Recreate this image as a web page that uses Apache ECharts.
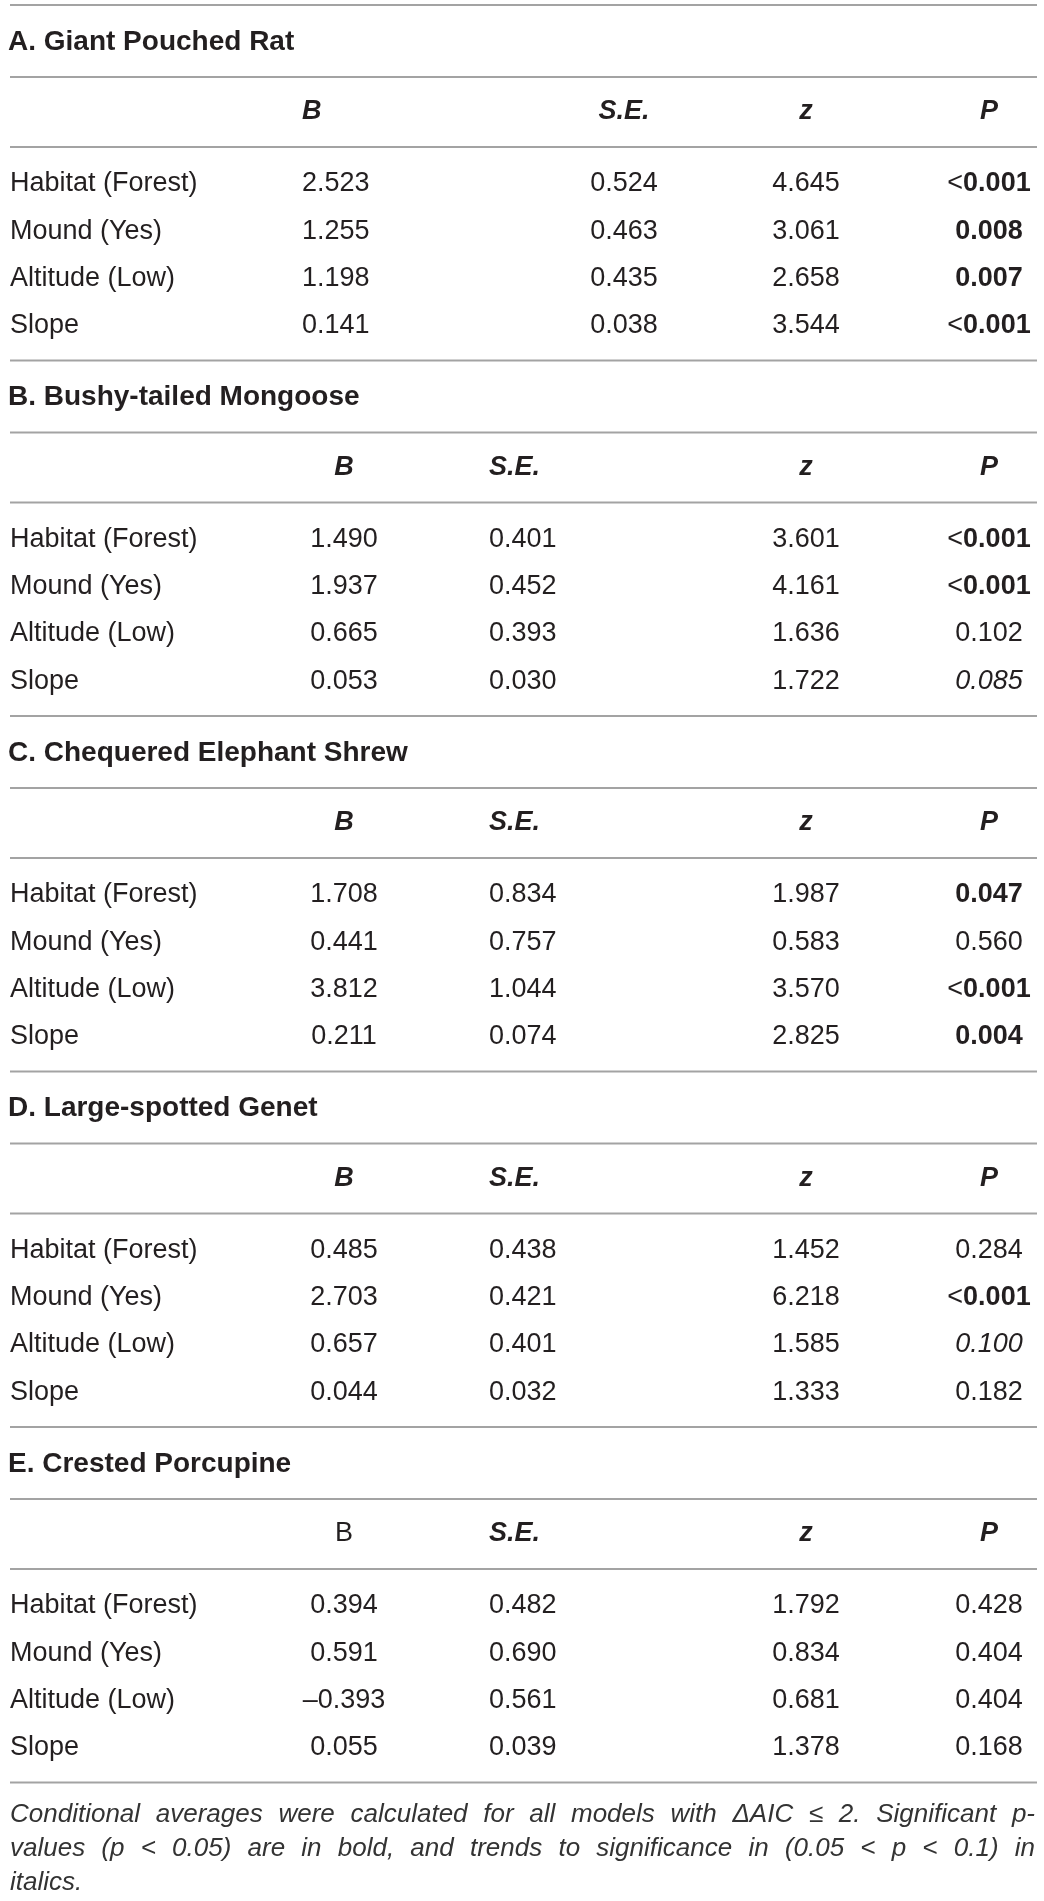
<!DOCTYPE html>
<html>
<head>
<meta charset="utf-8">
<script src="https://cdn.jsdelivr.net/npm/echarts@6/dist/echarts.min.js"></script>
<style>
  html, body { margin: 0; padding: 0; background: #fff; }
  #chart { width: 1044px; height: 1901px; }
</style>
</head>
<body>
<div id="chart"></div>
<script>
// table content
const speciesTitles = ['A. Giant Pouched Rat', 'B. Bushy-tailed Mongoose', 'C. Chequered Elephant Shrew', 'D. Large-spotted Genet', 'E. Crested Porcupine'];
const predictors = ['Habitat (Forest)', 'Mound (Yes)', 'Altitude (Low)', 'Slope'];
const headers = ['B', 'S.E.', 'z', 'P'];
const estB = [
  [2.523, 1.255, 1.198, 0.141],
  [1.490, 1.937, 0.665, 0.053],
  [1.708, 0.441, 3.812, 0.211],
  [0.485, 2.703, 0.657, 0.044],
  [0.394, 0.591, -0.393, 0.055]
];
const stdErr = [
  [0.524, 0.463, 0.435, 0.038],
  [0.401, 0.452, 0.393, 0.030],
  [0.834, 0.757, 1.044, 0.074],
  [0.438, 0.421, 0.401, 0.032],
  [0.482, 0.690, 0.561, 0.039]
];
const zVal = [
  [4.645, 3.061, 2.658, 3.544],
  [3.601, 4.161, 1.636, 1.722],
  [1.987, 0.583, 3.570, 2.825],
  [1.452, 6.218, 1.585, 1.333],
  [1.792, 0.834, 0.681, 1.378]
];
const pVal = [
  ['<0.001', '0.008', '0.007', '<0.001'],
  ['<0.001', '<0.001', '0.102', '0.085'],
  ['0.047', '0.560', '<0.001', '0.004'],
  ['0.284', '<0.001', '0.100', '0.182'],
  ['0.428', '0.404', '0.404', '0.168']
];
const footLines = [
  'Conditional averages were calculated for all models with \u0394AIC \u2264 2. Significant p-',
  'values (p < 0.05) are in bold, and trends to significance in (0.05 < p < 0.1) in',
  'italics.'
];

// layout
const W = 1044, H = 1901;
const FONT = '"Liberation Sans", Arial, Helvetica, sans-serif';
const INK = '#231f20';
const RULE = '#a3a3a3';
const TOP = 5, SECTION_H = 355.5, ROW_H = 47.2;
const LEFT = 10, RIGHT = 1037;
const BODY_SIZE = 27, TITLE_SIZE = 28, FOOT_SIZE = 26;
// first block has its own B / S.E. placement
const colB = [[302, 'left'], [344, 'center']];
const colSE = [[624, 'center'], [489, 'left']];
const Z_X = 806, P_X = 989;

function fmt(v) {
  const s = Math.abs(v).toFixed(3);
  return v < 0 ? '\u2013' + s : s;
}

let cells = [];
let rules = [];
speciesTitles.forEach((title, s) => {
  const y0 = TOP + s * SECTION_H;
  const k = s === 0 ? 0 : 1;
  if (s === 0) rules.push(y0);
  rules.push(y0 + 72, y0 + 142, y0 + SECTION_H);

  cells.push({ x: LEFT - 2, y: y0 + 37, text: title, align: 'left', weight: 'bold', size: TITLE_SIZE });

  const hy = y0 + 107;
  // the last block prints B upright and plain
  const bHead = s === 4 ? { weight: 'normal', italic: false } : { weight: 'bold', italic: true };
  cells.push({ x: colB[k][0], y: hy, text: headers[0], align: colB[k][1], weight: bHead.weight, italic: bHead.italic });
  cells.push({ x: colSE[k][0], y: hy, text: headers[1], align: colSE[k][1], weight: 'bold', italic: true });
  cells.push({ x: Z_X, y: hy, text: headers[2], align: 'center', weight: 'bold', italic: true });
  cells.push({ x: P_X, y: hy, text: headers[3], align: 'center', weight: 'bold', italic: true });

  predictors.forEach((name, r) => {
    const ry = y0 + 179 + r * ROW_H;
    cells.push({ x: LEFT, y: ry, text: name, align: 'left' });
    cells.push({ x: colB[k][0], y: ry, text: fmt(estB[s][r]), align: colB[k][1] });
    cells.push({ x: colSE[k][0], y: ry, text: fmt(stdErr[s][r]), align: colSE[k][1] });
    cells.push({ x: Z_X, y: ry, text: fmt(zVal[s][r]), align: 'center' });
    const p = pVal[s][r];
    const less = p.charAt(0) === '<';
    const num = parseFloat(less ? p.slice(1) : p);
    cells.push({
      x: P_X, y: ry, align: 'center', pLess: less,
      text: less ? p.slice(1) : p,
      weight: num < 0.05 ? 'bold' : 'normal',
      italic: num >= 0.05 && num <= 0.1
    });
  });
});

// footnote, justified like the source
const footY = [1815, 1849, 1883];
const measure = document.createElement('canvas').getContext('2d');
measure.font = 'italic ' + FOOT_SIZE + 'px ' + FONT;
footLines.forEach((line, i) => {
  const words = line.split(' ');
  const last = i === footLines.length - 1;
  const widths = words.map(w => measure.measureText(w).width);
  const total = widths.reduce((a, b) => a + b, 0);
  const gap = last ? measure.measureText(' ').width : (RIGHT - 2 - LEFT - total) / (words.length - 1);
  let x = LEFT;
  words.forEach((w, j) => {
    cells.push({ x: x, y: footY[i], text: w, align: 'left', italic: true, size: FOOT_SIZE, color: '#333' });
    x += widths[j] + gap;
  });
});

const chart = echarts.init(document.getElementById('chart'));
chart.setOption({
  animation: false,
  backgroundColor: '#fff',
  grid: { left: 0, right: 0, top: 0, bottom: 0 },
  xAxis: { type: 'value', min: 0, max: W, show: false },
  yAxis: { type: 'value', min: 0, max: H, inverse: true, show: false },
  series: [
    {
      type: 'custom',
      data: rules.map(y => [LEFT, RIGHT, y]),
      renderItem: function (params, api) {
        const a = api.coord([api.value(0), api.value(2)]);
        const b = api.coord([api.value(1), api.value(2)]);
        return {
          type: 'line',
          shape: { x1: a[0], y1: a[1], x2: b[0], y2: b[1] },
          style: { stroke: RULE, lineWidth: 2 }
        };
      }
    },
    {
      type: 'custom',
      data: cells.map(c => [c.x, c.y]),
      renderItem: function (params, api) {
        const c = cells[params.dataIndex];
        const pt = api.coord([api.value(0), api.value(1)]);
        const size = c.size || BODY_SIZE;
        const base = {
          fontFamily: FONT,
          fontSize: size,
          fontWeight: c.weight || 'normal',
          fontStyle: c.italic ? 'italic' : 'normal',
          fill: c.color || INK
        };
        const style = Object.assign({}, base, {
          text: c.text,
          align: c.align,
          verticalAlign: 'middle'
        });
        if (c.pLess) {
          style.text = '{lt|<}{v|' + c.text + '}';
          style.rich = {
            lt: Object.assign({}, base, { fontWeight: 'normal' }),
            v: base
          };
        }
        return { type: 'text', x: pt[0], y: pt[1], style: style };
      }
    }
  ]
});
</script>
</body>
</html>
